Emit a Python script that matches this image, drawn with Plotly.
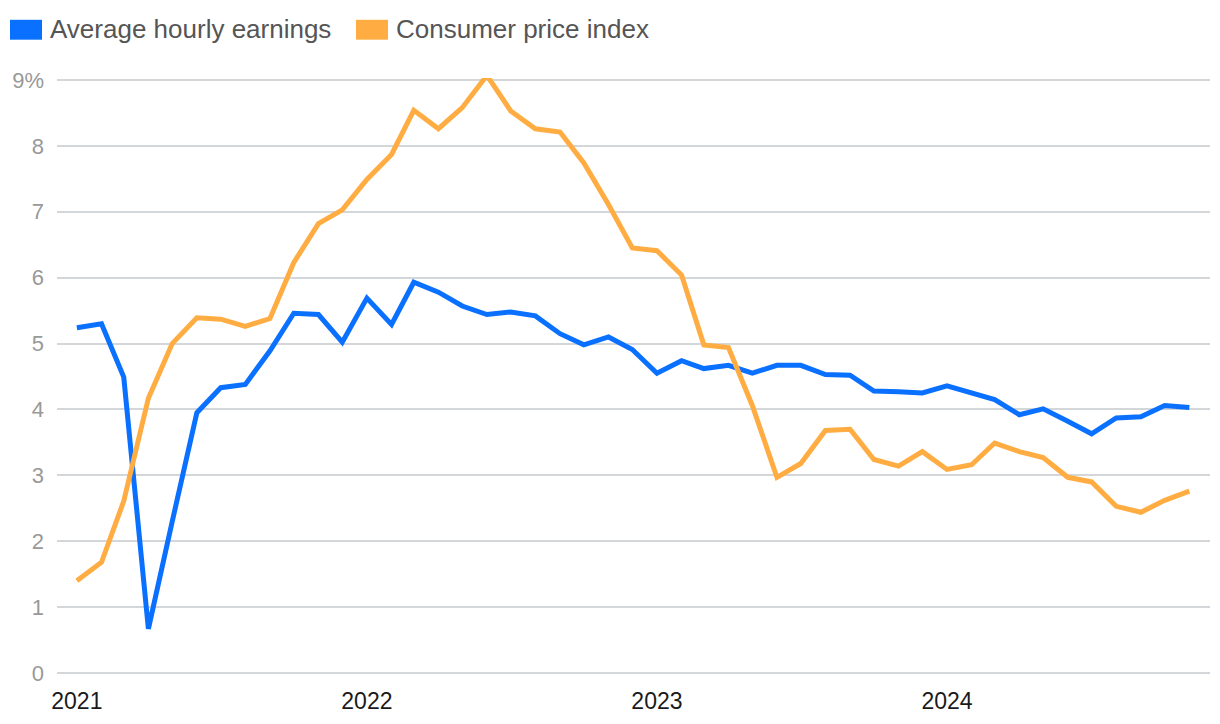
import plotly.graph_objects as go
import pandas as pd

months = pd.date_range("2021-01-01", "2024-11-01", freq="MS").strftime("%Y-%m-%d").tolist()

avg_hourly_earnings = [
    5.24, 5.30, 4.49, 0.67, 2.30, 3.95, 4.33, 4.38, 4.89, 5.46, 5.44, 5.02,
    5.69, 5.29, 5.93, 5.78, 5.57, 5.44, 5.48, 5.42, 5.15, 4.98, 5.10, 4.91,
    4.55, 4.74, 4.62, 4.67, 4.55, 4.67, 4.67, 4.53, 4.52, 4.28, 4.27, 4.25,
    4.36, 4.25, 4.15, 3.92, 4.01, 3.82, 3.63, 3.87, 3.89, 4.06, 4.03,
]
consumer_price_index = [
    1.40, 1.68, 2.61, 4.17, 5.00, 5.39, 5.37, 5.26, 5.38, 6.23, 6.82, 7.03,
    7.49, 7.87, 8.54, 8.26, 8.58, 9.07, 8.53, 8.26, 8.21, 7.74, 7.11, 6.45,
    6.41, 6.04, 4.98, 4.94, 4.06, 2.97, 3.18, 3.68, 3.70, 3.24, 3.14, 3.36,
    3.09, 3.16, 3.49, 3.36, 3.27, 2.97, 2.90, 2.53, 2.44, 2.62, 2.76,
]
series_names = ["Average hourly earnings", "Consumer price index"]
series_colors = ["#0a70ff", "#ffad42"]

year_tickvals = ["2021-01-01", "2022-01-01", "2023-01-01", "2024-01-01"]
year_ticktext = ["2021", "2022", "2023", "2024"]
y_tickvals = [0, 1, 2, 3, 4, 5, 6, 7, 8, 9]
y_ticktext = ["0", "1", "2", "3", "4", "5", "6", "7", "8", "9%"]

# page body has an 8px margin; figure is sized so the page fits the window
OFF = 8
W, H = 1220 - 2 * OFF, 724 - 2 * OFF
PAD = 0.03  # small range padding so the 0 and 9 gridlines are drawn
UNIT = (676 - 80) / 9.0
TOP = 80 - PAD * UNIT
BOT = 676 + PAD * UNIT
ML = 57 - OFF
MT = round(TOP - OFF)
MR = W - (1210 - OFF)
MB = round(H - (BOT - OFF))
PW, PH = W - ML - MR, H - MT - MB

def px_x(p):
    return (p - OFF - ML) / PW

def px_y(p):
    return (H - MB - (p - OFF)) / PH

FONT = "Liberation Sans, Arial, Helvetica, sans-serif"

fig = go.Figure()
for name, vals, col in zip(series_names, [avg_hourly_earnings, consumer_price_index], series_colors):
    fig.add_trace(go.Scatter(
        x=months, y=vals, mode="lines", name=name,
        line=dict(color=col, width=5), showlegend=False,
        cliponaxis=False, hoverinfo="x+y+name",
    ))

# legend (manual, square swatches)
shapes = []
annotations = []
legend_items = [(10, 42, 48), (356, 388, 394)]
for (x0, x1, tx), name, col in zip(legend_items, series_names, series_colors):
    shapes.append(dict(type="rect", xref="paper", yref="paper",
                       x0=px_x(x0), x1=px_x(x1), y0=px_y(39.5), y1=px_y(19.5),
                       fillcolor=col, line=dict(width=0)))
    annotations.append(dict(xref="paper", yref="paper", x=px_x(tx), y=px_y(28.5),
                            xanchor="left", yanchor="middle", showarrow=False,
                            text=name, font=dict(family=FONT, size=26, color="#555555")))

fig.update_layout(
    width=W, height=H,
    margin=dict(l=ML, r=MR, t=MT, b=MB),
    paper_bgcolor="white", plot_bgcolor="white",
    showlegend=False,
    shapes=shapes, annotations=annotations,
    font=dict(family=FONT),
    xaxis=dict(
        range=["2020-12-07", "2024-11-27"],
        tickvals=year_tickvals, ticktext=year_ticktext,
        showgrid=False, zeroline=False, showline=False, ticks="",
        tickfont=dict(family=FONT, size=23, color="#1a1a1a"),
        ticklabelstandoff=10,
        fixedrange=True,
    ),
    yaxis=dict(
        range=[-PAD, 9 + PAD],
        tickvals=y_tickvals, ticktext=y_ticktext,
        showgrid=True, gridcolor="#d3d7d9", gridwidth=1.5,
        zeroline=True, zerolinecolor="#d3d7d9", zerolinewidth=1.5,
        showline=False, ticks="",
        tickfont=dict(family=FONT, size=22, color="#999999"),
        ticklabelstandoff=12,
        fixedrange=True,
    ),
)

fig.write_html("out.html")
